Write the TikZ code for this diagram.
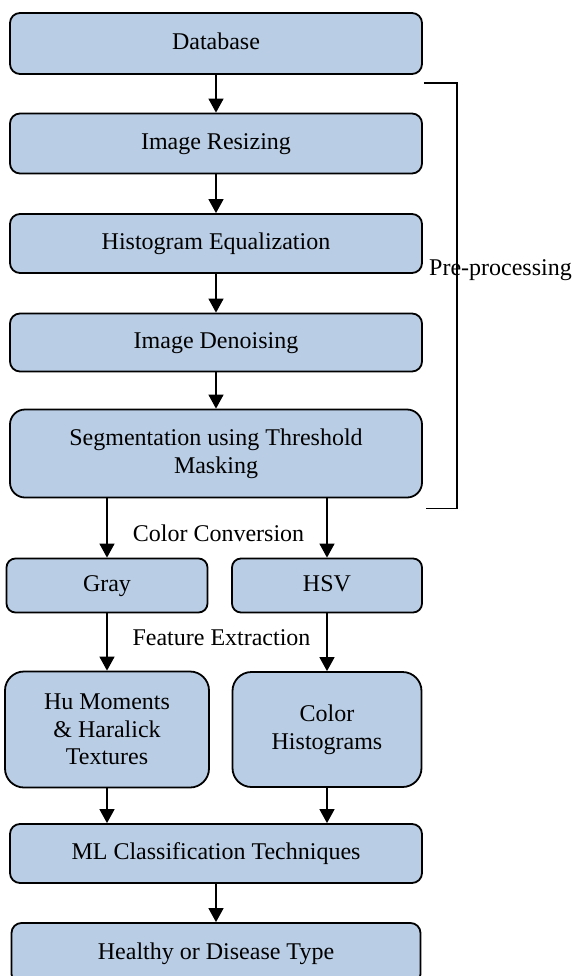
\documentclass[tikz,border=0pt]{standalone}
\usepackage{fontspec}
\setmainfont{Liberation Serif}
\usetikzlibrary{arrows.meta,positioning,shapes}
\definecolor{boxblue}{RGB}{185,205,229}
\tikzset{
  block/.style={draw=black, line width=0.9pt, fill=boxblue, rounded corners=5pt,
    minimum width=206pt, minimum height=30pt, inner sep=0pt, align=center,
    font=\fontsize{12}{13.8}\selectfont},
  oneline/.style={text height=8.5pt, text depth=3pt},
  tag/.style={inner sep=0pt, font=\fontsize{12}{13.8}\selectfont},
  flow/.style={-{Triangle[length=7pt,width=7.5pt]}, line width=0.7pt}
}

\begin{document}
\begin{tikzpicture}[node distance=50pt,on grid,auto]
   \useasboundingbox (0,0) rectangle (286.5pt,-488pt);
   \node [block, oneline, minimum height=30.5pt] (db) at (108pt,-21.75pt) {Database};
   \node [block, oneline] (resize) [below=of db] {Image Resizing};
   \node [block, oneline, minimum height=29.5pt] (histeq) [below=of resize] {Histogram Equalization};
   \node [block, oneline, minimum height=29pt] (denoise) [below=49.5pt of histeq] {Image Denoising};
   \node [block, minimum height=44pt, rounded corners=7.5pt] (seg) [below=55.5pt of denoise] {Segmentation using Threshold\\ Masking};
   \node [block, oneline, minimum width=100.5pt, minimum height=27pt, rounded corners=4.5pt] (gray) [below left=66pt and 54.5pt of seg] {Gray};
   \node [block, oneline, minimum width=95pt, minimum height=27pt, rounded corners=4.5pt] (hsv) [below right=66pt and 55.5pt of seg] {HSV};
   \node [block, minimum width=102pt, minimum height=58pt, rounded corners=9.5pt] (hu) [below=72pt of gray] {Hu Moments\\ \& Haralick\\ Textures};
   \node [block, minimum width=94.5pt, minimum height=57.5pt, rounded corners=9.5pt] (colhist) [below=72pt of hsv] {Color\\ Histograms};
   \node [block, oneline, minimum height=29.5pt] (ml) [below=200pt of seg] {ML Classification Techniques};
   \node [block, oneline, minimum width=204.5pt, minimum height=30.5pt] (healthy) [below=of ml] {Healthy or Disease Type};

   % labels
   \node [tag] (conv) [below=40pt of seg, xshift=1.25pt] {Color Conversion};
   \node [tag] (feat) [below=52pt of conv, xshift=1.5pt] {Feature Extraction};
   \node [tag] (pre) at (250.25pt,-135pt) {Pre-processing};

   % bracket
   \coordinate (brtop) at ([shift={(0.5pt,-4pt)}]db.south east);
   \coordinate (brbot) at ([shift={(1.5pt,-5pt)}]seg.south east);
   \draw [line width=0.6pt] (brtop) -- ++(16.5pt,0) |- (brbot);

    \path [flow]
    (db) edge (resize)
    (resize) edge (histeq)
    (histeq) edge (denoise)
    (denoise) edge (seg)
    (gray.north |- seg.south) edge (gray)
    (hsv.north |- seg.south) edge (hsv)
    (gray) edge (gray.south |- hu.north)
    (hsv) edge (colhist)
    (hu) edge (hu.south |- ml.north)
    (colhist) edge (colhist.south |- ml.north)
    (ml) edge (healthy);
\end{tikzpicture}
\end{document}
